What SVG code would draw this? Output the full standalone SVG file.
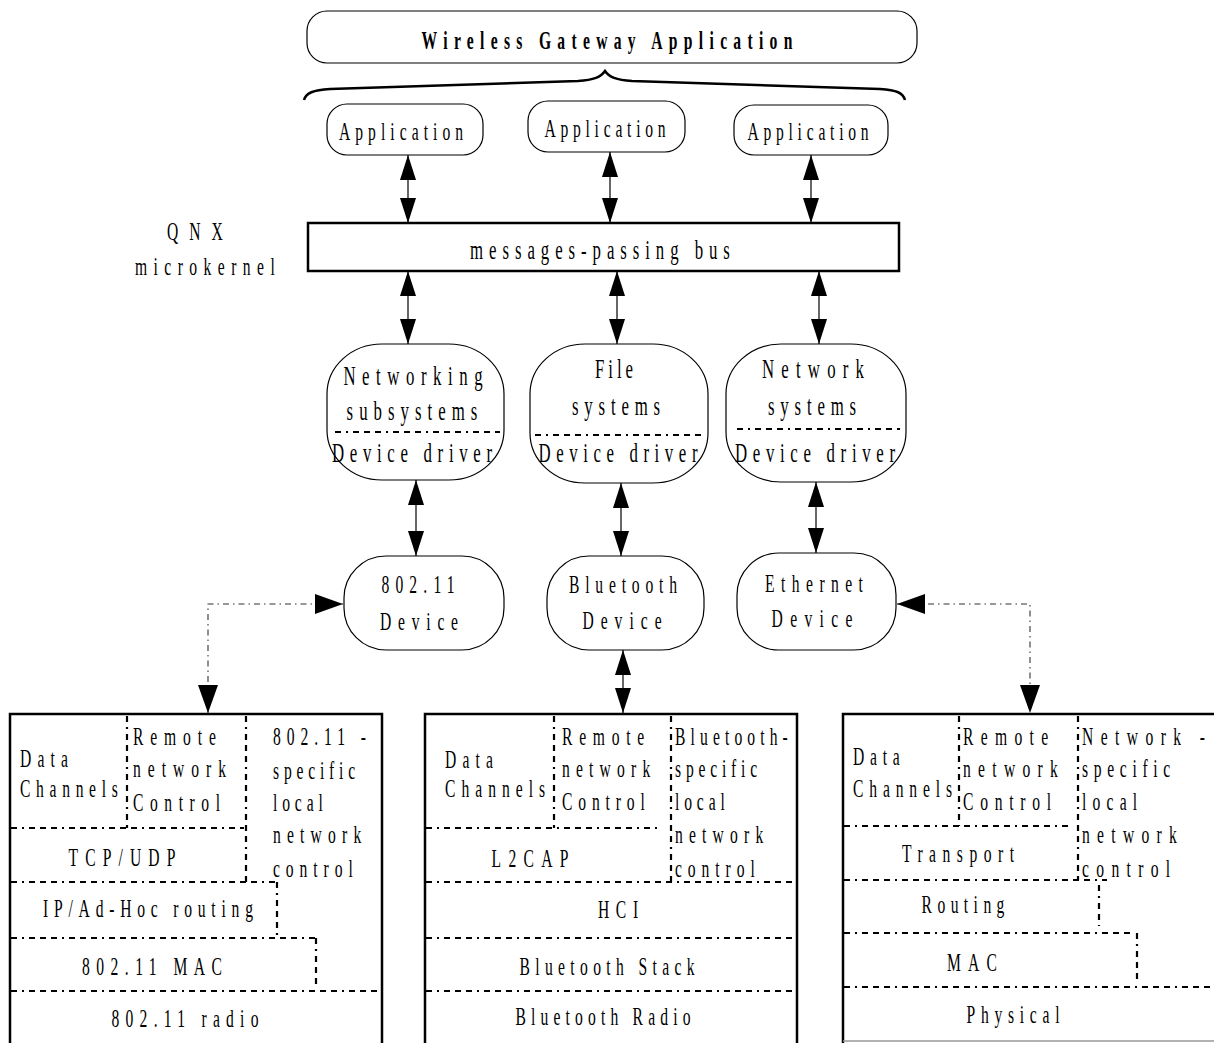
<svg xmlns="http://www.w3.org/2000/svg" width="1214" height="1043" viewBox="0 0 1214 1043">
<style>
text { font-family: "Liberation Serif", "Times New Roman", serif; font-size: 26px; fill: #000; }
.m { text-anchor: middle; }
.b { font-weight: bold; }
.l { font-size: 28px; }
.node { fill: #fff; stroke: #000; stroke-width: 1.2; }
.thick { fill: #fff; stroke: #000; stroke-width: 2.5; }
.arrow { fill: none; stroke: #000; stroke-width: 1.2; marker-start: url(#ah); marker-end: url(#ah); }
.conn { fill: none; stroke: #333; stroke-width: 1.1; stroke-dasharray: 6 4 1.5 4; marker-start: url(#ah2); marker-end: url(#ah2); }
.dot { fill: none; stroke: #000; stroke-width: 2.2; stroke-dasharray: 6 5 2 5 6 5 6 5; }
</style>
<defs>
<marker id="ah" markerUnits="userSpaceOnUse" markerWidth="26" markerHeight="16" refX="25" refY="8" orient="auto-start-reverse">
<path d="M0,0 L25,8 L0,16 z" fill="#000"/>
</marker>
<marker id="ah2" markerUnits="userSpaceOnUse" markerWidth="29" markerHeight="20" refX="28" refY="10" orient="auto-start-reverse">
<path d="M0,0 L28,10 L0,20 z" fill="#000"/>
</marker>
</defs>

<g id="gateway">
<rect x="307" y="11" width="610" height="52" rx="20" class="node"/>
<text class="m b" transform="translate(607,49) scale(0.6,1)" textLength="618" lengthAdjust="spacing">Wireless Gateway Application</text>
</g>
<path id="brace" d="M304,100 C306,93 313,90 330,89 L578,81 C594,80 601,77 605,71 C609,77 616,80 632,81 L880,89 C897,90 903,93 905,100" fill="none" stroke="#000" stroke-width="2.5"/>

<g id="app1">
<rect x="327" y="104" width="156" height="51" rx="20" class="node"/>
<text class="m" transform="translate(401,140) scale(0.6,1)" textLength="207" lengthAdjust="spacing">Application</text>
</g>
<g id="app2">
<rect x="528" y="101" width="157" height="51" rx="20" class="node"/>
<text class="m" transform="translate(605,137) scale(0.6,1)" textLength="202" lengthAdjust="spacing">Application</text>
</g>
<g id="app3">
<rect x="734" y="105" width="154" height="50" rx="20" class="node"/>
<text class="m" transform="translate(808,140) scale(0.6,1)" textLength="202" lengthAdjust="spacing">Application</text>
</g>

<g id="qnx-label">
<text transform="translate(167,240) scale(0.6,1)" textLength="93" lengthAdjust="spacing">QNX</text>
<text transform="translate(135,275) scale(0.6,1)" textLength="233" lengthAdjust="spacing">microkernel</text>
</g>

<g id="bus">
<rect x="308" y="223" width="591" height="48" class="thick"/>
<text class="m l" transform="translate(600,259) scale(0.6,1)" textLength="433" lengthAdjust="spacing">messages-passing bus</text>
</g>

<g id="networking">
<rect x="327" y="344" width="177" height="136" rx="55" ry="50" class="node"/>
<text class="m l" transform="translate(413,385) scale(0.6,1)" textLength="232" lengthAdjust="spacing">Networking</text>
<text class="m l" transform="translate(412,420) scale(0.6,1)" textLength="218" lengthAdjust="spacing">subsystems</text>
<line x1="335" y1="432" x2="500" y2="432" class="dot"/>
<text class="m l" transform="translate(412,462) scale(0.6,1)" textLength="267" lengthAdjust="spacing">Device driver</text>
</g>
<g id="filesys">
<rect x="530" y="344" width="178" height="139" rx="55" ry="50" class="node"/>
<text class="m l" transform="translate(614,378) scale(0.6,1)" textLength="63" lengthAdjust="spacing">File</text>
<text class="m l" transform="translate(616,415) scale(0.6,1)" textLength="147" lengthAdjust="spacing">systems</text>
<line x1="535" y1="435" x2="702" y2="435" class="dot"/>
<text class="m l" transform="translate(618,462) scale(0.6,1)" textLength="265" lengthAdjust="spacing">Device driver</text>
</g>
<g id="netsys">
<rect x="726" y="344" width="180" height="138" rx="55" ry="50" class="node"/>
<text class="m l" transform="translate(813,378) scale(0.6,1)" textLength="170" lengthAdjust="spacing">Network</text>
<text class="m l" transform="translate(812,415) scale(0.6,1)" textLength="147" lengthAdjust="spacing">systems</text>
<line x1="737" y1="429" x2="900" y2="429" class="dot"/>
<text class="m l" transform="translate(815,462) scale(0.6,1)" textLength="267" lengthAdjust="spacing">Device driver</text>
</g>

<g id="dev80211">
<rect x="344" y="556" width="160" height="94" rx="42" class="node"/>
<text class="m" transform="translate(418,593) scale(0.6,1)" textLength="122" lengthAdjust="spacing">802.11</text>
<text class="m" transform="translate(419,630) scale(0.6,1)" textLength="130" lengthAdjust="spacing">Device</text>
</g>
<g id="devbt">
<rect x="547" y="556" width="157" height="94" rx="42" class="node"/>
<text class="m" transform="translate(623,593) scale(0.6,1)" textLength="180" lengthAdjust="spacing">Bluetooth</text>
<text class="m" transform="translate(622,629) scale(0.6,1)" textLength="132" lengthAdjust="spacing">Device</text>
</g>
<g id="deveth">
<rect x="737" y="553" width="159" height="97" rx="42" class="node"/>
<text class="m" transform="translate(814,592) scale(0.6,1)" textLength="163" lengthAdjust="spacing">Ethernet</text>
<text class="m" transform="translate(812,627) scale(0.6,1)" textLength="135" lengthAdjust="spacing">Device</text>
</g>

<g id="stack80211">
<path d="M10,1043 V714 H382 V1043" class="thick" fill="none"/>
<line x1="127" y1="716" x2="127" y2="828" class="dot"/>
<line x1="246" y1="716" x2="246" y2="882" class="dot"/>
<line x1="11" y1="828" x2="244" y2="828" class="dot"/>
<line x1="11" y1="882" x2="277" y2="882" class="dot"/>
<line x1="277" y1="882" x2="277" y2="938" class="dot"/>
<line x1="11" y1="938" x2="316" y2="938" class="dot"/>
<line x1="316" y1="938" x2="316" y2="985" class="dot"/>
<line x1="11" y1="991" x2="380" y2="991" class="dot"/>
<text transform="translate(20,767) scale(0.6,1)" textLength="80" lengthAdjust="spacing">Data</text>
<text transform="translate(20,797) scale(0.6,1)" textLength="163" lengthAdjust="spacing">Channels</text>
<text transform="translate(133,745) scale(0.6,1)" textLength="138" lengthAdjust="spacing">Remote</text>
<text transform="translate(133,777) scale(0.6,1)" textLength="155" lengthAdjust="spacing">network</text>
<text transform="translate(133,811) scale(0.6,1)" textLength="145" lengthAdjust="spacing">Control</text>
<text transform="translate(273,745) scale(0.6,1)" textLength="155" lengthAdjust="spacing">802.11 -</text>
<text transform="translate(273,779) scale(0.6,1)" textLength="137" lengthAdjust="spacing">specific</text>
<text transform="translate(273,811) scale(0.6,1)" textLength="83" lengthAdjust="spacing">local</text>
<text transform="translate(273,843) scale(0.6,1)" textLength="147" lengthAdjust="spacing">network</text>
<text transform="translate(273,877) scale(0.6,1)" textLength="133" lengthAdjust="spacing">control</text>
<text class="m" transform="translate(122,866) scale(0.6,1)" textLength="178" lengthAdjust="spacing">TCP/UDP</text>
<text class="m" transform="translate(148,917) scale(0.6,1)" textLength="350" lengthAdjust="spacing">IP/Ad-Hoc routing</text>
<text class="m" transform="translate(152,975) scale(0.6,1)" textLength="233" lengthAdjust="spacing">802.11 MAC</text>
<text class="m" transform="translate(185,1027) scale(0.6,1)" textLength="245" lengthAdjust="spacing">802.11 radio</text>
</g>

<g id="stackbt">
<path d="M425,1043 V714 H797 V1043" class="thick" fill="none"/>
<line x1="554" y1="716" x2="554" y2="828" class="dot"/>
<line x1="671" y1="716" x2="671" y2="882" class="dot"/>
<line x1="426" y1="828" x2="657" y2="828" class="dot"/>
<line x1="426" y1="882" x2="795" y2="882" class="dot"/>
<line x1="426" y1="938" x2="795" y2="938" class="dot"/>
<line x1="426" y1="991" x2="795" y2="991" class="dot"/>
<text transform="translate(445,768) scale(0.6,1)" textLength="80" lengthAdjust="spacing">Data</text>
<text transform="translate(445,797) scale(0.6,1)" textLength="167" lengthAdjust="spacing">Channels</text>
<text transform="translate(562,745) scale(0.6,1)" textLength="137" lengthAdjust="spacing">Remote</text>
<text transform="translate(562,777) scale(0.6,1)" textLength="147" lengthAdjust="spacing">network</text>
<text transform="translate(562,810) scale(0.6,1)" textLength="138" lengthAdjust="spacing">Control</text>
<text transform="translate(675,745) scale(0.6,1)" textLength="188" lengthAdjust="spacing">Bluetooth-</text>
<text transform="translate(675,777) scale(0.6,1)" textLength="137" lengthAdjust="spacing">specific</text>
<text transform="translate(675,810) scale(0.6,1)" textLength="83" lengthAdjust="spacing">local</text>
<text transform="translate(675,843) scale(0.6,1)" textLength="147" lengthAdjust="spacing">network</text>
<text transform="translate(675,877) scale(0.6,1)" textLength="133" lengthAdjust="spacing">control</text>
<text class="m" transform="translate(530,867) scale(0.6,1)" textLength="128" lengthAdjust="spacing">L2CAP</text>
<text class="m" transform="translate(618,918) scale(0.6,1)" textLength="67" lengthAdjust="spacing">HCI</text>
<text class="m" transform="translate(607,975) scale(0.6,1)" textLength="292" lengthAdjust="spacing">Bluetooth Stack</text>
<text class="m" transform="translate(603,1025) scale(0.6,1)" textLength="292" lengthAdjust="spacing">Bluetooth Radio</text>
</g>

<g id="stacketh">
<path d="M843,1043 V714 H1216" class="thick" fill="none"/>
<line x1="843" y1="1041" x2="1214" y2="1041" stroke="#999" stroke-width="1.5"/>
<line x1="959" y1="716" x2="959" y2="826" class="dot"/>
<line x1="1078" y1="716" x2="1078" y2="880" class="dot"/>
<line x1="844" y1="826" x2="1070" y2="826" class="dot"/>
<line x1="844" y1="880" x2="1107" y2="880" class="dot"/>
<line x1="1099" y1="885" x2="1099" y2="926" class="dot"/>
<line x1="844" y1="933" x2="1135" y2="933" class="dot"/>
<line x1="1137" y1="933" x2="1137" y2="982" class="dot"/>
<line x1="844" y1="987" x2="1214" y2="987" class="dot"/>
<text transform="translate(853,765) scale(0.6,1)" textLength="78" lengthAdjust="spacing">Data</text>
<text transform="translate(853,797) scale(0.6,1)" textLength="165" lengthAdjust="spacing">Channels</text>
<text transform="translate(963,745) scale(0.6,1)" textLength="142" lengthAdjust="spacing">Remote</text>
<text transform="translate(963,777) scale(0.6,1)" textLength="158" lengthAdjust="spacing">network</text>
<text transform="translate(963,810) scale(0.6,1)" textLength="147" lengthAdjust="spacing">Control</text>
<text transform="translate(1082,745) scale(0.6,1)" textLength="205" lengthAdjust="spacing">Network -</text>
<text transform="translate(1082,777) scale(0.6,1)" textLength="147" lengthAdjust="spacing">specific</text>
<text transform="translate(1082,810) scale(0.6,1)" textLength="92" lengthAdjust="spacing">local</text>
<text transform="translate(1082,843) scale(0.6,1)" textLength="158" lengthAdjust="spacing">network</text>
<text transform="translate(1082,877) scale(0.6,1)" textLength="147" lengthAdjust="spacing">control</text>
<text class="m" transform="translate(958,862) scale(0.6,1)" textLength="187" lengthAdjust="spacing">Transport</text>
<text class="m" transform="translate(963,913) scale(0.6,1)" textLength="138" lengthAdjust="spacing">Routing</text>
<text class="m" transform="translate(972,971) scale(0.6,1)" textLength="83" lengthAdjust="spacing">MAC</text>
<text class="m" transform="translate(1013,1023) scale(0.6,1)" textLength="155" lengthAdjust="spacing">Physical</text>
</g>

<g id="connectors">
<line x1="408" y1="155" x2="408" y2="223" class="arrow"/>
<line x1="610" y1="152" x2="610" y2="223" class="arrow"/>
<line x1="811" y1="155" x2="811" y2="223" class="arrow"/>
<line x1="408" y1="271" x2="408" y2="344" class="arrow"/>
<line x1="617" y1="271" x2="617" y2="344" class="arrow"/>
<line x1="819" y1="271" x2="819" y2="344" class="arrow"/>
<line x1="416" y1="480" x2="416" y2="556" class="arrow"/>
<line x1="621" y1="483" x2="621" y2="556" class="arrow"/>
<line x1="816" y1="482" x2="816" y2="553" class="arrow"/>
<line x1="623" y1="650" x2="623" y2="713" class="arrow"/>
<polyline points="208,713 208,604 343,604" class="conn"/>
<polyline points="897,604 1030,604 1030,713" class="conn"/>
</g>
</svg>
